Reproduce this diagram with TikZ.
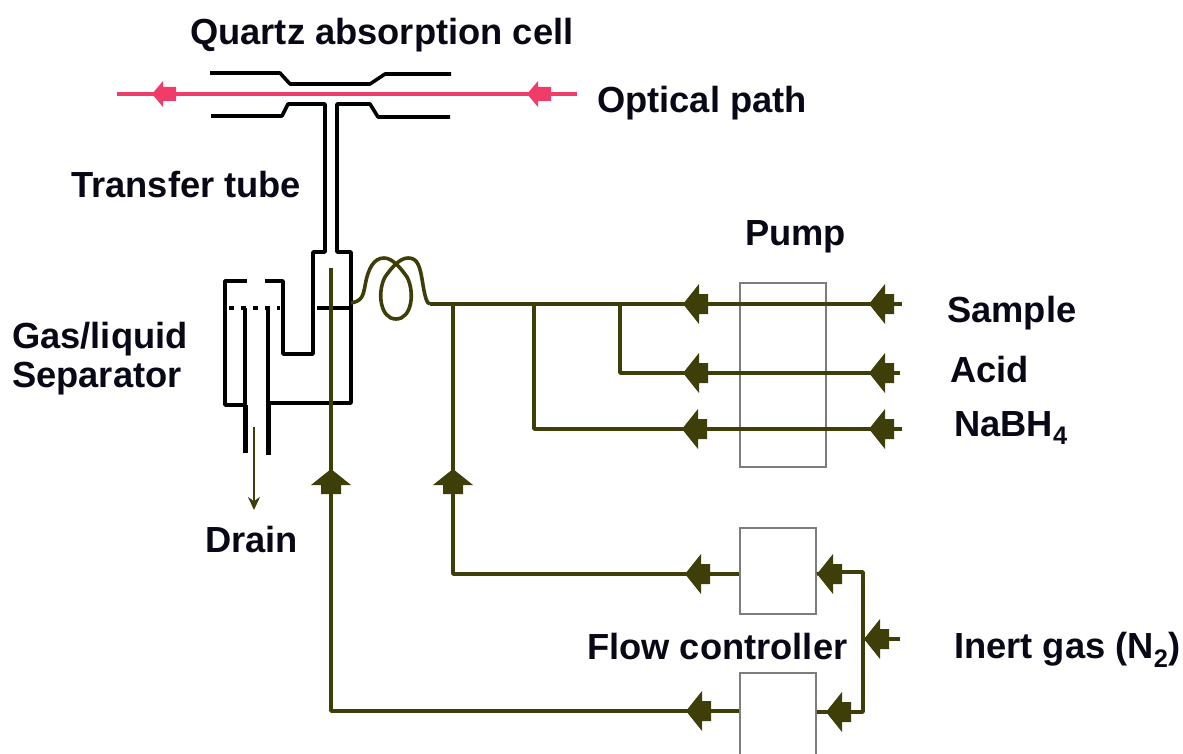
\documentclass[tikz,border=0pt]{standalone}
\usepackage{fontspec}
\setmainfont{Liberation Sans}
\usetikzlibrary{arrows.meta}
\definecolor{feedcol}{RGB}{62,62,8}
\definecolor{beamcol}{RGB}{240,60,105}
\definecolor{boxcol}{RGB}{125,125,125}
\definecolor{labelcol}{RGB}{8,8,22}
\tikzset{
    glass/.style={draw=black, line width=3.6pt, line join=round},
    feed/.style={draw=feedcol, line width=3.6pt, line join=round},
    beam/.style={draw=beamcol, line width=3.6pt},
    unitbox/.style={draw=boxcol, line width=1.8pt, inner sep=0pt},
    lab/.style={anchor=base west, inner sep=0pt, text=labelcol, font=\fontsize{36.3}{36.3}\selectfont\bfseries},
    pics/flowtip/.style={code={
        \fill[feedcol] (0,0) -- (16,-20) -- (16,-10) -- (25,-10) -- (25,10) -- (16,10) -- (16,20) -- cycle;
    }},
    pics/beamtip/.style={code={
        \fill[beamcol] (0,0) -- (11,-13) -- (11,-7) -- (24,-7) -- (24,7) -- (11,7) -- (11,13) -- cycle;
    }},
}
\begin{document}
\begin{tikzpicture}[x=1pt, y=-1pt]
    \useasboundingbox (0,0) rectangle (1183,754);
    \clip (0,0) rectangle (1183,754);

    % labels
    \node[lab] (quartzlab) at (190,45) {Quartz absorption cell};
    \node[lab] (opticallab) at (597,113) {Optical path};
    \node[lab] (transferlab) at (71,198) {Transfer tube};
    \node[lab] (gaslab) at (12,348) {Gas/liquid};
    \node[lab] (seplab) at (12,387) {Separator};
    \node[lab] (pumplab) at (745,245) {Pump};
    \node[lab] (samplelab) at (947,322) {Sample};
    \node[lab] (acidlab) at (950,382) {Acid};
    \node[lab] (nalab) at (954,436) {NaBH\textsubscript{4}};
    \node[lab] (drainlab) at (205,552) {Drain};
    \node[lab] (flowlab) at (587,659) {Flow controller};
    \node[lab] (inertlab) at (954,658) {Inert gas (N\textsubscript{2})};

    % boxes
    \node[unitbox, minimum width=86pt, minimum height=184pt] (pumpbox) at (783,375) {};
    \node[unitbox, minimum width=76pt, minimum height=86pt] (flowtop) at (778,571) {};
    \node[unitbox, minimum width=76pt, minimum height=100pt] (flowbot) at (778,723) {};

    % optical path
    \coordinate (beamin) at (577,94);
    \coordinate (beamout) at (117,94);
    \draw[beam] (beamin) -- (beamout);
    \pic at (152,94) {beamtip};
    \pic at (527,94) {beamtip};

    % cell and transfer tube
    \draw[glass] (210,73) -- (280,73) -- (290,84) -- (370,84) -- (385,74) -- (451,74);
    \draw[glass] (211,116) -- (282,116) -- (288,104) -- (325,104) -- (325,252) -- (313,252)
        -- (313,354) -- (283,354) -- (283,281) -- (265,281);
    \draw[glass] (450,117) -- (378,117) -- (370,104) -- (337,104) -- (337,252) -- (351,252)
        -- (351,403) -- (268,403);

    % separator
    \draw[glass] (247,281) -- (225,281) -- (225,405) -- (245,405);
    \draw[glass] (245,308) -- (245,405);
    \draw[glass, line width=5pt] (245,405) -- (245,453);
    \draw[glass] (268,308) -- (268,403);
    \draw[glass, line width=5pt] (268,403) -- (268,455);
    \draw[glass, dash pattern=on 5pt off 7pt] (229,308) -- (280,308);
    \draw[glass] (317,308) -- (351,308);

    % drain
    \coordinate (draintop) at (254,427);
    \coordinate (drainend) at (254,510);
    \draw[feed, line width=2.6pt, -{Stealth[length=13pt, width=12pt]}] (draintop) -- (drainend);

    % feed lines
    \coordinate (coilin) at (430,304);
    \coordinate (sampleend) at (902,304);
    \coordinate (acidend) at (900,373);
    \coordinate (naend) at (902,429);
    \coordinate (tapgas) at (453,304);
    \coordinate (tapna) at (534,304);
    \coordinate (tapacid) at (620,304);
    \coordinate (gastip) at (331,268);
    \coordinate (rail) at (863,572);
    \coordinate (railbot) at (863,712);
    \coordinate (inertend) at (900,639);
    \coordinate (railmid) at (863,639);

    % coil
    \draw[feed] (351,303) .. controls (362,301) and (363,296) .. (365,286)
        .. controls (368,268) and (374,258) .. (384,258)
        .. controls (392,258) and (400,267) .. (407,277)
        .. controls (415,292) and (412,319) .. (396,319)
        .. controls (380,319) and (377,292) .. (385,277)
        .. controls (392,267) and (400,258) .. (408,258)
        .. controls (418,258) and (420,266) .. (423,285)
        .. controls (425,297) and (427,304) .. (coilin);

    \draw[feed] (sampleend) -- (coilin);
    \draw[feed] (acidend) -- (620,373) -- (tapacid);
    \draw[feed] (naend) -- (534,429) -- (tapna);
    \draw[feed] (flowtop.west |- 0,574) -- (453,574) -- (tapgas);
    \draw[feed] (flowbot.west |- 0,711) -- (331,711) -- (gastip);
    \draw[feed] (flowtop.east |- 0,574) -- (825,572) -- (rail) -- (railbot) -- (flowbot.east |- railbot);
    \draw[feed] (inertend) -- (railmid);

    % arrow heads
    \foreach \tipx/\tipy in {683/304, 683/373, 682/429, 869/304, 869/373, 869/429, 685/574, 686/711, 817/574, 826/712, 864/639}
        \pic at (\tipx,\tipy) {flowtip};
    \foreach \tipx in {331, 453}
        \pic[rotate=-90] at (\tipx,469) {flowtip};
\end{tikzpicture}
\end{document}
